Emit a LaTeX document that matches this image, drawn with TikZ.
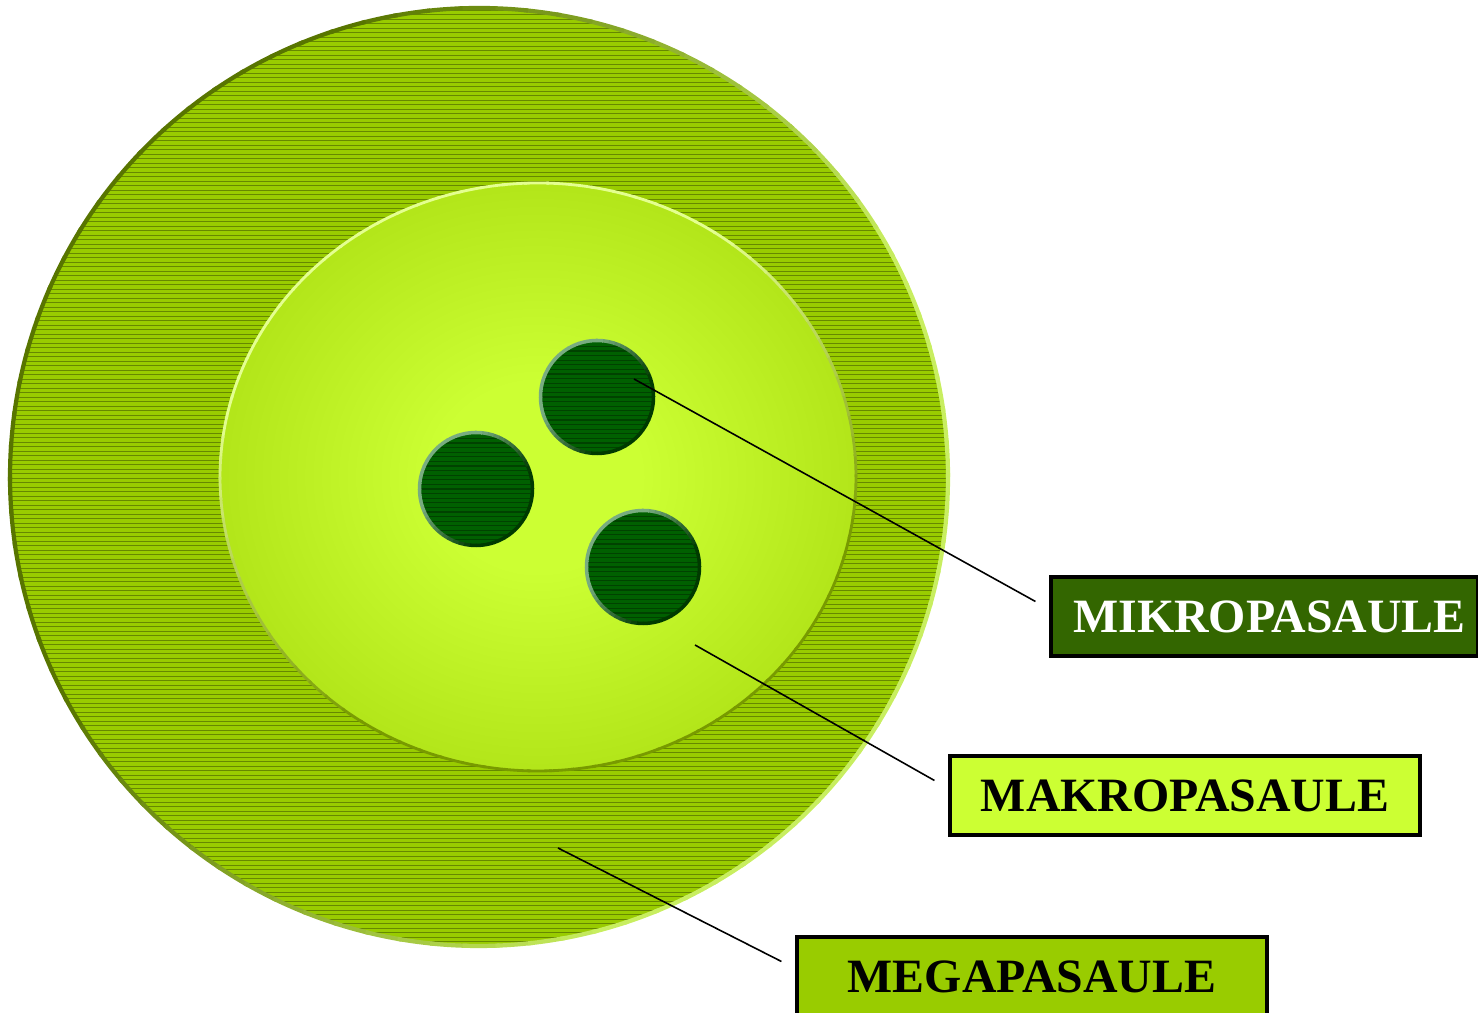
\documentclass[tikz,border=0pt]{standalone}
\usepackage{fontspec}
\setmainfont{Liberation Serif}
\usetikzlibrary{calc}
\definecolor{megafill}{HTML}{99CC00}
\definecolor{megahatch}{HTML}{668800}
\definecolor{megaedge}{HTML}{587500}
\definecolor{megalight}{HTML}{C8EE60}
\definecolor{makroin}{HTML}{CCFF33}
\definecolor{makroout}{HTML}{99CC00}
\definecolor{makrolight}{HTML}{E4FF90}
\definecolor{makrodark}{HTML}{789A00}
\definecolor{mikrofill}{HTML}{006000}
\definecolor{mikrohatch}{HTML}{004200}
\definecolor{mikrolight}{HTML}{78AC80}
\definecolor{mikrodark}{HTML}{003A00}
\definecolor{mikrobox}{HTML}{336600}
\pgfdeclareradialshading{makroshade}{\pgfpoint{0bp}{0bp}}{color(0bp)=(makroin); color(8bp)=(makroin); color(42bp)=(makroout); color(71bp)=(makroout)}
\tikzset{
  labelbox/.style={draw=black, line width=0.9pt, minimum width=#1*0.01cm, minimum height=0.79cm, inner sep=0pt,
    font=\fontsize{13.6}{16}\selectfont\bfseries},
  leader/.style={draw=black, line width=0.45pt},
}
\begin{document}
\begin{tikzpicture}[x=0.01cm, y=0.01cm]
\useasboundingbox (0,0) rectangle (1478,1013);
% MEGAPASAULE (outer circle)
\coordinate (mega) at (479,536);
\fill[megafill] (mega) circle (469);
\begin{scope}
  \clip (mega) circle (469);
  \foreach \yy in {1012,1007.5,...,60} {
    \draw[megahatch, line width=0.25pt] (0,\yy) -- (960,\yy);
  }
\end{scope}
\foreach \a in {0,4,...,356} {
  \pgfmathsetmacro\t{max(0,min(100,50+80*cos(\a+25)))}
  \draw[megalight!\t!megaedge, line width=1.2pt] ($(mega)+(\a:469)$) arc[start angle=\a, end angle=\a+4.5, radius=469];
}
% MAKROPASAULE (inner ellipse)
\coordinate (makro) at (538,536);
\shade[shading=makroshade] (makro) ellipse [x radius=318, y radius=294];
\foreach \a in {0,4,...,356} {
  \pgfmathsetmacro\t{max(0,min(100,50+90*cos(\a-110)))}
  \draw[makrolight!\t!makrodark, line width=0.8pt] ($(makro)+({318*cos(\a)},{294*sin(\a)})$) arc[start angle=\a, end angle=\a+4.5, x radius=318, y radius=294];
}
% MIKROPASAULE (small circles)
\foreach \nm/\cx/\cy in {m1/597/616, m2/476/524, m3/643/446} {
  \coordinate (\nm) at (\cx,\cy);
  \fill[mikrofill] (\nm) circle (57);
  \begin{scope}
    \clip (\nm) circle (57);
    \foreach \k in {-12,...,12} {
      \draw[mikrohatch, line width=0.3pt] ($(\nm)+(-60,\k*4.6)$) -- ($(\nm)+(60,\k*4.6)$);
    }
  \end{scope}
  \foreach \a in {0,6,...,354} {
    \pgfmathsetmacro\t{max(0,min(100,50+90*cos(\a-140)))}
    \draw[mikrolight!\t!mikrodark, line width=1pt] ($(\nm)+(\a:56.5)$) arc[start angle=\a, end angle=\a+6.5, radius=56.5];
  }
}
% label boxes
\node[labelbox=427, fill=mikrobox, text=white] (mikrolab) at (1264.5,396.5) {\hspace*{0.1cm}MIKROPASAULE};
\node[labelbox=470, fill=makroin, text=black] (makrolab) at (1185,217.5) {MAKROPASAULE};
\node[labelbox=470, fill=megafill, text=black] (megalab) at (1032,36.5) {MEGAPASAULE};
% leader anchors
\coordinate (p1) at (634,634);
\coordinate (p2) at (695,368);
\coordinate (p3) at (558,165);
\coordinate (e1) at ($(mikrolab.west)+(-14,15)$);
\coordinate (e2) at ($(makrolab.west)+(-14,15)$);
\coordinate (e3) at ($(megalab.west)+(-14,15)$);
\draw[leader] (p1) -- (e1);
\draw[leader] (p2) -- (e2);
\draw[leader] (p3) -- (e3);
\end{tikzpicture}
\end{document}
